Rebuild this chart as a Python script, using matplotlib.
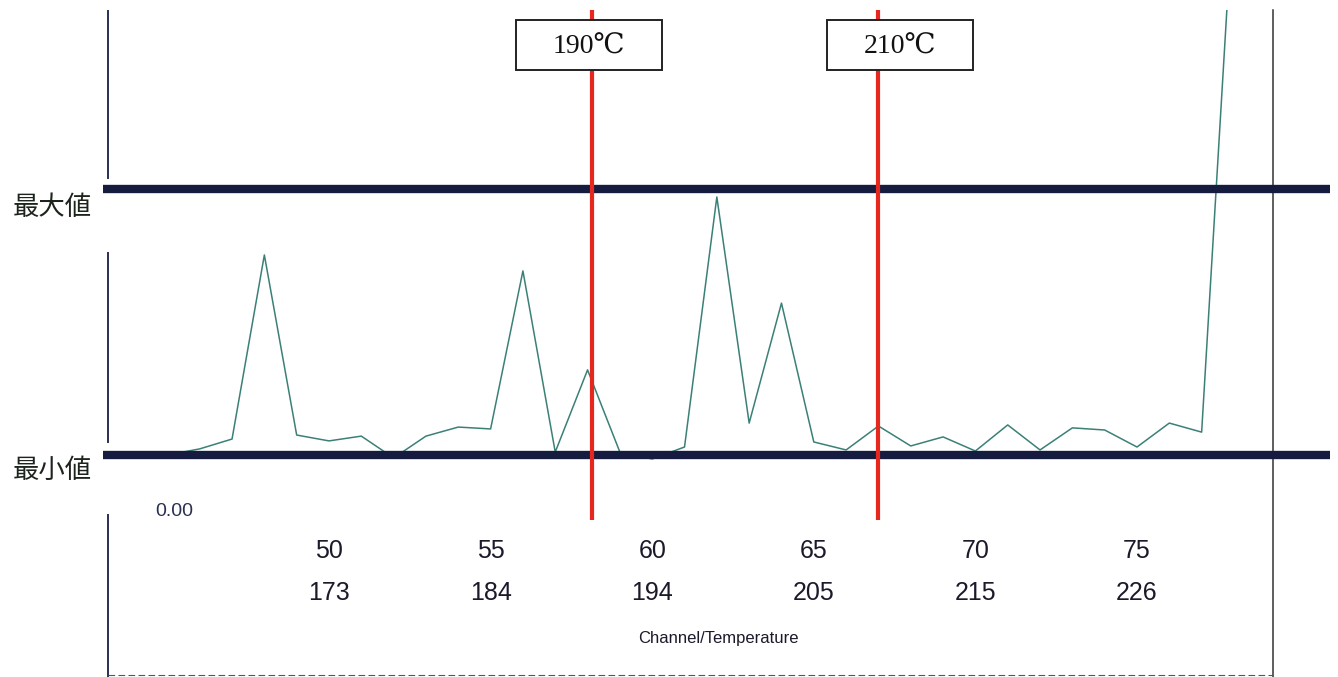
import matplotlib
matplotlib.use("Agg")
import matplotlib.pyplot as plt
from matplotlib import font_manager
from matplotlib.patches import Rectangle

# ---------------- data ----------------
channels = [45, 46, 47, 48, 49, 50, 51, 52, 53, 54, 55, 56, 57, 58, 59, 60, 61,
            62, 63, 64, 65, 66, 67, 68, 69, 70, 71, 72, 73, 74, 75, 76, 77, 78]
signal = [0.0, 2.3, 6.0, 75.2, 7.5, 5.3, 7.1, -1.1, 7.1, 10.5, 9.8, 69.2, 1.1,
          32.0, 1.1, -1.5, 3.0, 97.0, 12.0, 57.1, 4.9, 1.9, 10.9, 3.4, 6.8, 1.5,
          11.3, 1.9, 10.2, 9.4, 3.0, 12.0, 8.6, 212.0]
tick_channels = [50, 55, 60, 65, 70, 75]
tick_temps = ["173", "184", "194", "205", "215", "226"]
marker_channels = [58.13, 66.99]
marker_labels = ["190℃", "210℃"]
level_values = [100, 0]
level_labels = ["最大値", "最小値"]
zero_label = "0.00"
xlabel = "Channel/Temperature"

# ---------------- layout calibration ----------------
W, H = 1338, 677
px_per_ch = 32.32
x0_px, x0_ch = 329, 50
ybase_px, ytop_px = 455, 189

def ch_from_px(px):
    return x0_ch + (px - x0_px) / px_per_ch

def val_from_py(py):
    return (ybase_px - py) / (ybase_px - ytop_px) * 100.0

names = {f.name for f in font_manager.fontManager.ttflist}
narrow = "Liberation Sans Narrow" if "Liberation Sans Narrow" in names else "Liberation Sans"

fig = plt.figure(figsize=(W / 100, H / 100), dpi=100)
ax = fig.add_axes([0, 0, 1, 1])
ax.set_xlim(ch_from_px(0), ch_from_px(W))
ax.set_ylim(val_from_py(H), val_from_py(0))
ax.axis("off")

navy = "#161c3f"
red = "#e5271d"

# trace
clip = Rectangle((ch_from_px(0), val_from_py(600)), 60, val_from_py(10) - val_from_py(600),
                 transform=ax.transData, visible=False)
ax.add_patch(clip)
tr, = ax.plot(channels, signal, color="#3b8077", lw=1.1, zorder=2)
tr.set_clip_path(clip)

# min / max horizontal levels
label_py = [207, 470]
for v, lab, lp in zip(level_values, level_labels, label_py):
    ax.plot([ch_from_px(103), ch_from_px(1330)], [v, v], color=navy, lw=6.0,
            solid_capstyle="butt", zorder=3)
    ax.text(ch_from_px(52), val_from_py(lp), lab,
            family=["Noto Sans CJK JP", "DejaVu Sans"], fontsize=19,
            ha="center", va="center", color="#1c241c", zorder=5)

# left vertical axis line (broken at the labels)
for a, b in [(11, 178), (253, 442), (515, 677)]:
    ax.plot([ch_from_px(108)] * 2, [val_from_py(a), val_from_py(b)], color="#2a2d55",
            lw=1.4, zorder=1)
# right vertical line
ax.plot([ch_from_px(1273)] * 2, [val_from_py(10), val_from_py(677)], color="#333333",
        lw=1.1, zorder=1)

# temperature marker lines with boxes
box_offsets_px = [-3, 22]
for c, lab, off in zip(marker_channels, marker_labels, box_offsets_px):
    ax.plot([c, c], [val_from_py(10), val_from_py(520)], color=red, lw=3.0, zorder=4,
            solid_capstyle="butt")
    cx = c + off / px_per_ch
    bw = 146 / px_per_ch
    bh = val_from_py(20) - val_from_py(70)
    ax.add_patch(Rectangle((cx - bw / 2, val_from_py(70)), bw, bh, facecolor="white",
                           edgecolor="#222222", lw=1.4, zorder=6))
    ax.text(cx, val_from_py(47), lab,
            family=["Liberation Serif", "DejaVu Serif", "Noto Sans CJK JP"],
            fontsize=20, ha="center", va="center", color="#111111", zorder=7)

# tick labels
for c, t in zip(tick_channels, tick_temps):
    ax.text(c, val_from_py(551), str(c), family=[narrow, "DejaVu Sans"], fontsize=18,
            ha="center", va="center", color="#1a1a2a", zorder=5)
    ax.text(c, val_from_py(593), t, family=[narrow, "DejaVu Sans"], fontsize=18,
            ha="center", va="center", color="#1a1a2a", zorder=5)

ax.text(ch_from_px(174), val_from_py(512), zero_label, family=[narrow, "DejaVu Sans"],
        fontsize=14, ha="center", va="center", color="#2a3050", zorder=5)
ax.text(ch_from_px(718), val_from_py(638), xlabel, family=[narrow, "DejaVu Sans"],
        fontsize=12, ha="center", va="center", color="#1a1a2a", zorder=5)

# faint bottom border
ax.plot([ch_from_px(108), ch_from_px(1273)], [val_from_py(675)] * 2, color="#555555",
        lw=0.8, ls=(0, (6, 3)), zorder=1)

fig.savefig("out.png", dpi=100)
